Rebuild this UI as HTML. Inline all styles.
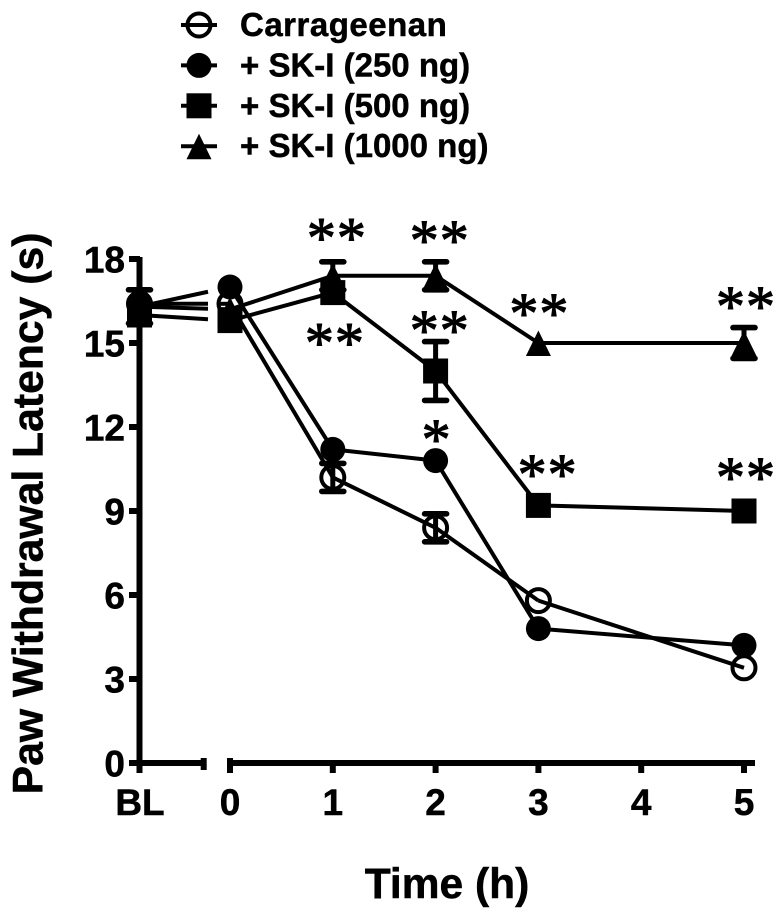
<!DOCTYPE html>
<html lang="en">
<head>
<meta charset="utf-8">
<title>Paw Withdrawal Latency</title>
<style>
html,body{margin:0;padding:0;background:#fff;}
svg{display:block;}
text{font-family:"Liberation Sans",sans-serif;font-weight:bold;fill:#000;stroke:#000;stroke-width:0.5px;}
.star{font-family:"Liberation Serif",serif;font-weight:normal;font-size:58px;letter-spacing:1px;stroke-width:1.1px;}
</style>
</head>
<body>
<svg id="chart" xmlns="http://www.w3.org/2000/svg" width="781" height="917" viewBox="0 0 781 917"></svg>
<script>
const categories = ['BL', 0, 1, 2, 3, 5];
const xTickLabels = ['BL', '0', '1', '2', '3', '4', '5'];
const yTickLabels = [0, 3, 6, 9, 12, 15, 18];
const seriesNames = ['Carrageenan', '+ SK-I (250 ng)', '+ SK-I (500 ng)', '+ SK-I (1000 ng)'];
const carrageenan = [16.4, 16.4, 10.2, 8.4, 5.8, 3.4];
const carrageenanErr = [0, 0, 0.5, 0.5, 0, 0];
const skI250 = [16.3, 17.0, 11.2, 10.8, 4.8, 4.2];
const skI250Err = [0, 0, 0, 0, 0, 0];
const skI500 = [16.0, 15.8, 16.8, 14.0, 9.2, 9.0];
const skI500Err = [0, 0, 0, 1.05, 0, 0];
const skI1000 = [16.3, 16.2, 17.4, 17.4, 15.0, 15.0];
const skI1000Err = [0.6, 0, 0.5, 0.5, 0, 0.55];
const sigHours = [1.04, 2.04, 3.01, 5.02, 1.02, 2.04, 3.09, 5.02, 2.01];
const sigValues = [19.02, 18.92, 16.32, 16.57, 15.27, 15.72, 10.57, 10.47, 11.82];
const sigLabels = ['**', '**', '**', '**', '**', '**', '**', '**', '*'];

const NS = 'http://www.w3.org/2000/svg';
const svg = document.getElementById('chart');
function xScale(c){ return c === 'BL' ? 139.5 : 230 + 102.8 * Number(c); }
function yScale(v){ return 763 - 28 * v; }
function make(tag, attrs, parent){
  const el = document.createElementNS(NS, tag);
  for (const k in attrs) el.setAttribute(k, attrs[k]);
  (parent || svg).appendChild(el);
  return el;
}
function marker(kind, cx, cy, parent){
  let el;
  if (kind === 0) {
    el = make('circle', {cx: cx, cy: cy, r: 11.5, fill: 'none', stroke: '#000', 'stroke-width': 4}, parent);
  } else if (kind === 1) {
    el = make('circle', {cx: cx, cy: cy, r: 12.5, fill: '#000'}, parent);
  } else if (kind === 2) {
    el = make('rect', {x: cx - 12.5, y: cy - 12.5, width: 25, height: 25, fill: '#000'}, parent);
  } else {
    const pts = [[cx, cy - 12.5], [cx + 12.5, cy + 13], [cx - 12.5, cy + 13]];
    el = make('polygon', {points: pts.map(p => p.join(',')).join(' '), fill: '#000'}, parent);
  }
  
  
  return el;
}

/* series */
const allValues = [carrageenan, skI250, skI500, skI1000];
const allErrs = [carrageenanErr, skI250Err, skI500Err, skI1000Err];
const seriesKeys = ['carrageenan', 'sk-i-250', 'sk-i-500', 'sk-i-1000'];
const breakStart = 208;
const breakEnd = 218;

allValues.forEach(function(vals, si){
  const g = make('g', {});
  
  
  for (let i = 0; i < vals.length - 1; i++) {
    const x1 = xScale(categories[i]), y1 = yScale(vals[i]);
    const x2 = xScale(categories[i + 1]), y2 = yScale(vals[i + 1]);
    let endX = x2, endY = y2;
    if (categories[i] === 'BL') {
      endX = breakStart;
      endY = y1 + (y2 - y1) * (breakStart - x1) / (x2 - x1);
    }
    const seg = make('line', {x1: x1, y1: y1, x2: endX, y2: endY, stroke: '#000', 'stroke-width': 4}, g);
    
    
    if (categories[i] === 'BL') {
      const startY = y1 + (y2 - y1) * (breakEnd - x1) / (x2 - x1);
      const seg2 = make('line', {x1: breakEnd, y1: startY, x2: x2, y2: y2, stroke: '#000', 'stroke-width': 4}, g);
      
      
    }
  }
  vals.forEach(function(v, i){
    const cx = xScale(categories[i]), cy = yScale(v), e = allErrs[si][i];
    if (e > 0) {
      const top = yScale(v + e), bot = yScale(v - e);
      const stem = make('line', {x1: cx, y1: top, x2: cx, y2: bot, stroke: '#000', 'stroke-width': 5}, g);
      
      
      [top, bot].forEach(function(y){
        const cap = make('line', {x1: cx - 11, y1: y, x2: cx + 11, y2: y, stroke: '#000', 'stroke-width': 5.6, 'stroke-linecap': 'round'}, g);
        
        
      });
    }
    marker(si, cx, cy, g);
  });
});

/* axes */
const axes = make('g', {stroke: '#000', 'stroke-width': 6});


const yAxis = make('line', {x1: 139.5, y1: 257, x2: 139.5, y2: 773}, axes);


const xAxisLeft = make('line', {x1: 130, y1: 763, x2: 206, y2: 763}, axes);


const xAxisRight = make('line', {x1: 227, y1: 763, x2: 755, y2: 763}, axes);


const breakTickL = make('line', {x1: 203.7, y1: 758, x2: 203.7, y2: 770}, axes);


const breakTickR = make('line', {x1: 230, y1: 758, x2: 230, y2: 773}, axes);



yTickLabels.forEach(function(v){
  const y = yScale(v);
  const t = make('line', {x1: 129, y1: y, x2: 140, y2: y}, axes);
  
  
  const lab = make('text', {x: 125, y: y + 13.5, 'text-anchor': 'end', 'font-size': 37});
  lab.textContent = String(v);
  
  
});

xTickLabels.forEach(function(c){
  const x = xScale(c === 'BL' ? 'BL' : Number(c));
  if (c !== 'BL' && c !== '0') {
    const t = make('line', {x1: x, y1: 763, x2: x, y2: 773}, axes);
    
    
  }
  const lab = make('text', {x: c === 'BL' ? 140 : x, y: 815, 'text-anchor': 'middle', 'font-size': 37});
  lab.textContent = c;
  
  
});

/* significance markers */
sigLabels.forEach(function(s, i){
  const t = make('text', {x: xScale(sigHours[i]), y: yScale(sigValues[i]) + 27, 'text-anchor': 'middle', class: 'star'});
  t.textContent = s;
  
  
});

/* axis titles */
const yTitle = make('text', {transform: 'translate(42.5,513.5) rotate(-90)', 'text-anchor': 'middle', 'font-size': 42.7});
yTitle.textContent = 'Paw Withdrawal Latency (s)';


const xTitle = make('text', {x: 447, y: 898, 'text-anchor': 'middle', 'font-size': 42.5});
xTitle.textContent = 'Time (h)';



/* legend */
const legend = make('g', {});


seriesNames.forEach(function(name, i){
  const rowY = 25 + 40.4 * i;
  const row = make('g', {}, legend);
  
  
  const sw = make('line', {x1: 181, y1: rowY, x2: 217, y2: rowY, stroke: '#000', 'stroke-width': 4}, row);
  
  
  marker(i, 199, rowY, row);
  const t = make('text', {x: 240, y: rowY + 11, 'font-size': 33}, row);
  if (i === 0) t.setAttribute('letter-spacing', '0.5');
  t.textContent = name;
  
  
});
</script>
</body>
</html>
